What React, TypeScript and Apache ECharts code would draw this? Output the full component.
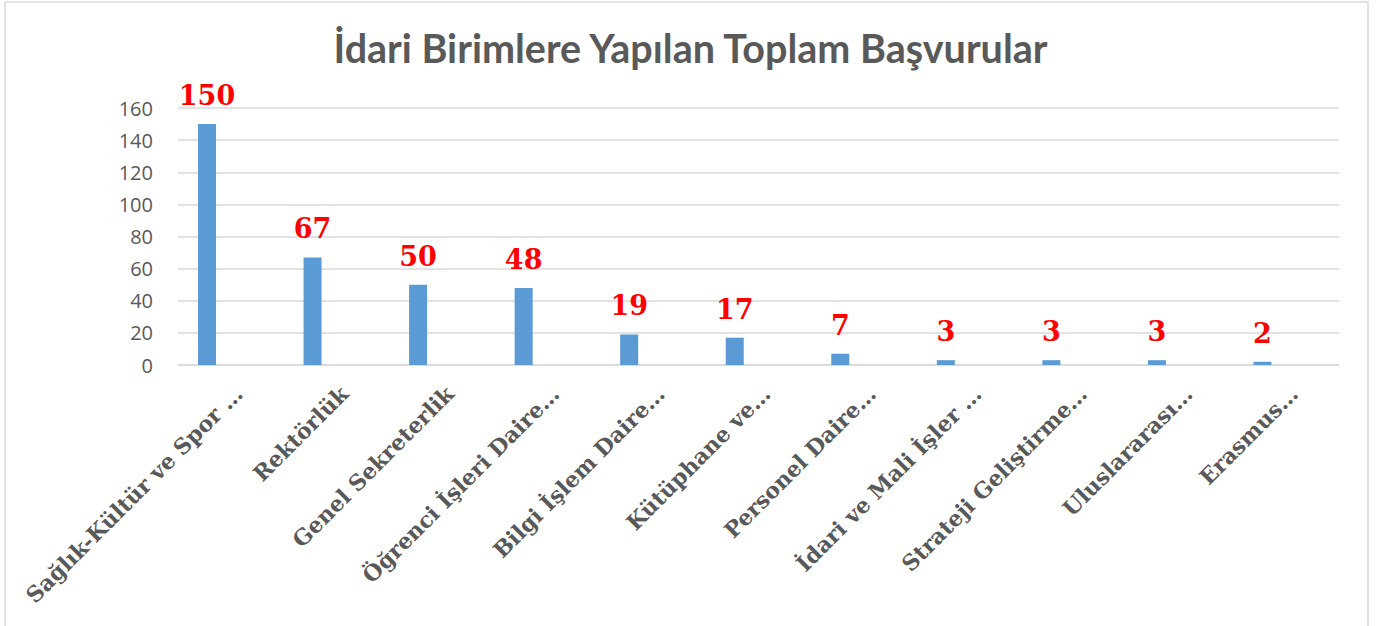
import React, { useEffect, useRef } from "react";
import * as echarts from "echarts";

const titleText = "İdari Birimlere Yapılan Toplam Başvurular";
const categories = [
  "Sağlık-Kültür ve Spor …",
  "Rektörlük",
  "Genel Sekreterlik",
  "Öğrenci İşleri Daire…",
  "Bilgi İşlem Daire…",
  "Kütüphane ve…",
  "Personel Daire…",
  "İdari ve Mali İşler …",
  "Strateji Geliştirme…",
  "Uluslararası…",
  "Erasmus…",
];
const values = [150, 67, 50, 48, 19, 17, 7, 3, 3, 3, 2];
const emptySeries = categories.map(() => null);

export default function App() {
  const ref = useRef<HTMLDivElement>(null);
  useEffect(() => {
    if (!ref.current) return;
    const chart = echarts.init(ref.current, undefined, { renderer: "svg" });
    chart.setOption({
      animation: false,
      backgroundColor: "#ffffff",
      graphic: [
        {
          type: "rect",
          shape: { x: 5, y: 2, width: 1363, height: 700 },
          style: { fill: "none", stroke: "#d9d9d9", lineWidth: 1.5 },
          silent: true,
        },
      ],
      title: {
        text: titleText,
        left: "center",
        top: 22,
        textStyle: {
          fontFamily: "Lato",
          fontWeight: "bold",
          fontSize: 39.5,
          color: "#595959",
        },
      },
      grid: { left: 178, right: 42, top: 108, bottom: 261, containLabel: false },
      xAxis: {
        type: "category",
        data: categories,
        axisLine: { show: true, lineStyle: { color: "#d9d9d9", width: 1.5 } },
        axisTick: { show: false },
        axisLabel: {
          rotate: 45,
          interval: 0,
          margin: 17,
          verticalAlign: "top",
          fontFamily: "DejaVu Serif",
          fontWeight: "bold",
          fontSize: 22,
          color: "#595959",
        },
      },
      yAxis: {
        type: "value",
        min: 0,
        max: 160,
        interval: 20,
        axisLine: { show: false },
        axisTick: { show: false },
        splitLine: { lineStyle: { color: "#d9d9d9", width: 1.5 } },
        axisLabel: {
          margin: 25,
          fontFamily: "Open Sans",
          fontSize: 20,
          color: "#595959",
        },
      },
      series: [
        {
          type: "bar",
          data: values,
          barWidth: 18,
          barGap: "164%",
          itemStyle: { color: "#5B9BD5" },
          label: {
            show: true,
            position: "top",
            distance: 15,
            fontFamily: "DejaVu Serif",
            fontWeight: "bold",
            fontSize: 27,
            color: "#ff0000",
          },
        },
        {
          type: "bar",
          data: emptySeries,
          barWidth: 18,
          itemStyle: { color: "#ED7D31" },
        },
      ],
    });
    return () => chart.dispose();
  }, []);
  return (
    <div
      ref={ref}
      style={{ position: "fixed", left: 0, top: 0, width: 1381, height: 626 }}
    />
  );
}
